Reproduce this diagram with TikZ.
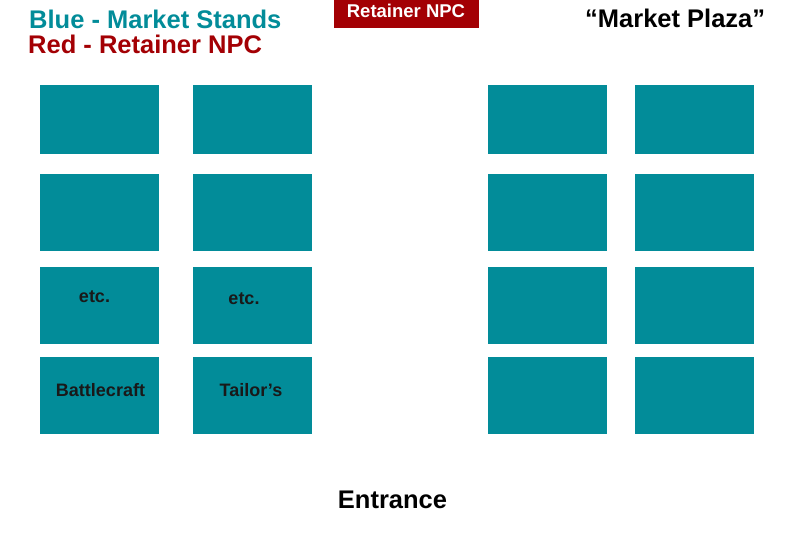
\documentclass[tikz,border=0pt]{standalone}
\usepackage{fontspec}
\setmainfont{Liberation Sans}
\definecolor{teal1}{RGB}{2,140,153}
\definecolor{red1}{RGB}{163,0,4}
\begin{document}
\begin{tikzpicture}[x=1pt,y=-1pt,
  stand/.style={draw=none,fill=teal1,rectangle,inner sep=0pt,minimum width=119pt,minimum height=#1},
  stand/.default=69pt,
  lbl/.style={font=\fontsize{18}{18}\selectfont\bfseries,text=black!90,inner sep=0pt,anchor=base},
  head/.style={font=\fontsize{25.5}{25.5}\selectfont\bfseries,inner sep=0pt,anchor=base west}]
\useasboundingbox (0,0) rectangle (800,533);
% row 1
\node[stand] (s11) at (99.5,119.5) {};
\node[stand] (s12) at (252.5,119.5) {};
\node[stand] (s13) at (547.5,119.5) {};
\node[stand] (s14) at (694,119.5) {};
% row 2
\node[stand=77pt] (s21) at (99,212.5) {};
\node[stand=77pt] (s22) at (252,212.5) {};
\node[stand=77pt] (s23) at (547,212.5) {};
\node[stand=77pt] (s24) at (694,212.5) {};
% row 3
\node[stand=77pt] (s31) at (99,305.5) {};
\node[stand=77pt] (s32) at (252,305.5) {};
\node[stand=77pt] (s33) at (547,305.5) {};
\node[stand=77pt] (s34) at (694,305.5) {};
% row 4
\node[stand=77pt] (s41) at (99,395.5) {};
\node[stand=77pt] (s42) at (252,395.5) {};
\node[stand=77pt] (s43) at (547,395.5) {};
\node[stand=77pt] (s44) at (694,395.5) {};
% labels in stands
\node[lbl] (t31) at (94.5,302) {etc.};
\node[lbl] (t32) at (244,304) {etc.};
\node[lbl] (t41) at (100.5,396) {Battlecraft};
\node[lbl] (t42) at (251,396) {Tailor’s};
% legend
\node[head,text=teal1] (legb) at (29,28) {Blue - Market Stands};
\node[head,text=red1] (legr) at (28,53) {Red - Retainer NPC};
% retainer box
\node[fill=red1,rectangle,inner sep=0pt,minimum width=145pt,minimum height=30pt] (npc) at (406.5,13) {};
\node[font=\fontsize{18.5}{18.5}\selectfont\bfseries,text=white,inner sep=0pt,anchor=base] (npct) at (406,17.5) {Retainer NPC};
% title
\node[head,text=black] (title) at (585,27) {“Market Plaza”};
% entrance
\node[head,text=black,anchor=base] (ent) at (392.5,508) {Entrance};
\end{tikzpicture}
\end{document}
